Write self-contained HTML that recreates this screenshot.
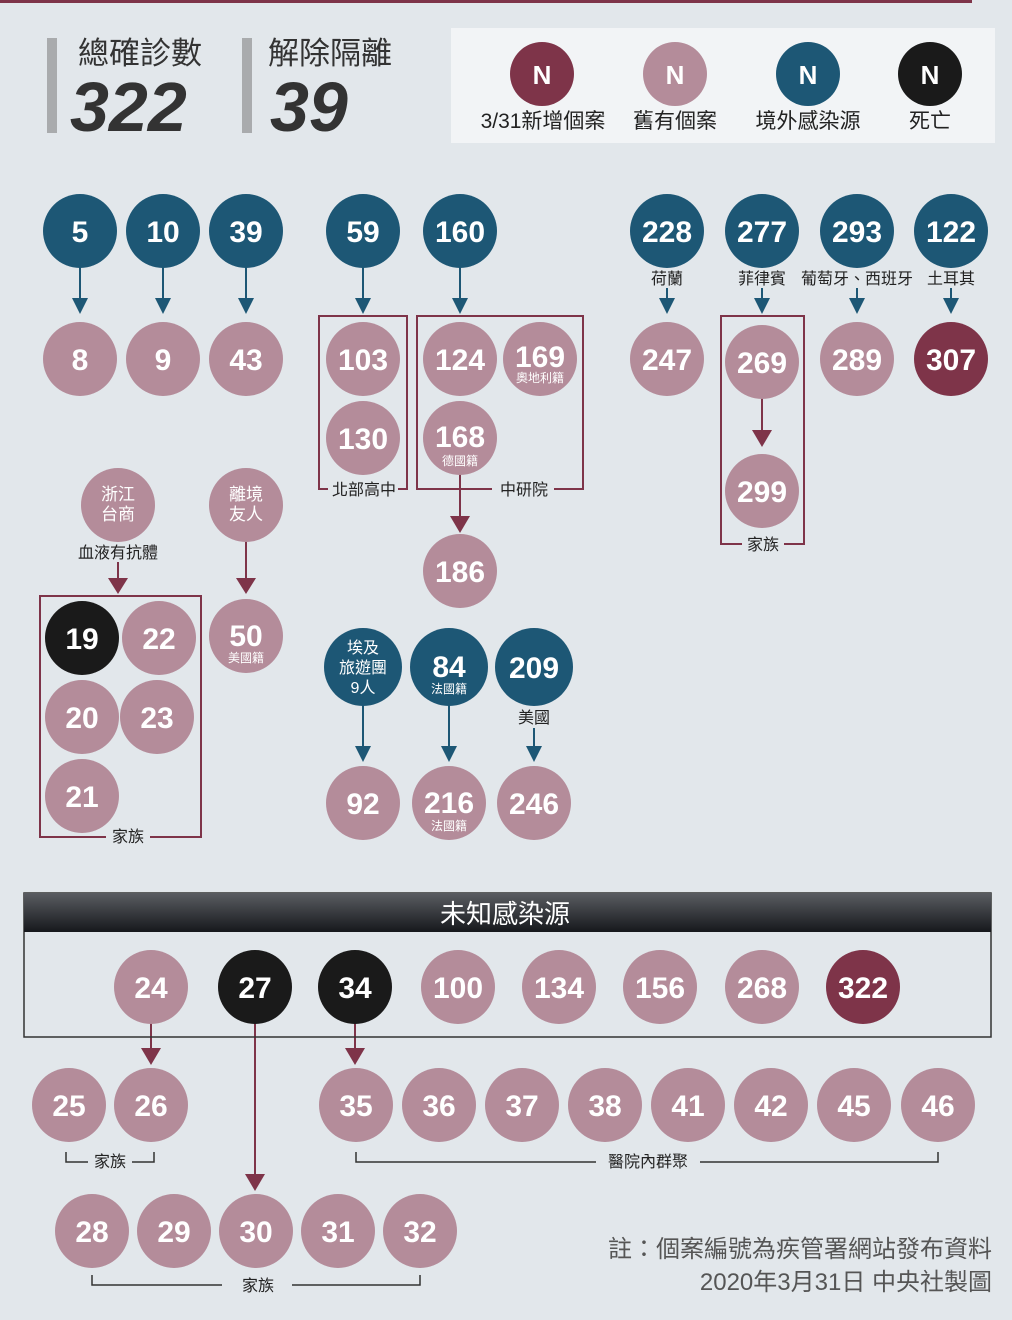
<!DOCTYPE html>
<html><head><meta charset="utf-8"><style>
body{margin:0;background:#e2e7eb}
svg{display:block;font-family:"Liberation Sans","Noto Sans CJK TC",sans-serif}
.n{font-weight:bold;fill:#fff;font-size:30px;text-anchor:middle}
.s{fill:#fff;font-size:12px;text-anchor:middle}
.l{fill:#222;font-size:16px;text-anchor:middle}
.p{fill:#b48c9a}.b{fill:#1d5775}.m{fill:#7e3449}.k{fill:#1a1a1a}
</style></head><body>
<svg width="1012" height="1320" viewBox="0 0 1012 1320">
<defs><linearGradient id="g" x1="0" y1="0" x2="0" y2="1"><stop offset="0" stop-color="#5a5d62"/><stop offset="1" stop-color="#16181c"/></linearGradient></defs>
<rect width="1012" height="1320" fill="#e2e7eb"/>
<rect x="0" y="0" width="972" height="3" fill="#7e3449"/>
<rect x="47" y="38" width="10" height="95" fill="#a9abad"/>
<rect x="242" y="38" width="10" height="95" fill="#a9abad"/>
<text x="78" y="64" font-size="31" fill="#333">總確診數</text>
<text x="268" y="64" font-size="31" fill="#333">解除隔離</text>
<text x="70" y="131" font-size="70" font-weight="bold" font-style="italic" fill="#333">322</text>
<text x="270" y="131" font-size="70" font-weight="bold" font-style="italic" fill="#333">39</text>
<rect x="451" y="28" width="544" height="115" fill="#f2f4f6"/>
<circle cx="542" cy="74" r="32" class="m"/><circle cx="675" cy="74" r="32" class="p"/><circle cx="808" cy="74" r="32" class="b"/><circle cx="930" cy="74" r="32" class="k"/>
<g><text x="542" y="84" class="n" style="font-size:26px">N</text><text x="675" y="84" class="n" style="font-size:26px">N</text><text x="808" y="84" class="n" style="font-size:26px">N</text><text x="930" y="84" class="n" style="font-size:26px">N</text></g>
<g fill="#222" font-size="21" text-anchor="middle"><text x="543" y="128">3/31新增個案</text><text x="675" y="128">舊有個案</text><text x="808" y="128">境外感染源</text><text x="930" y="128">死亡</text></g>

<g stroke="#1d5775" stroke-width="2">
<line x1="80" y1="260" x2="80" y2="300"/><line x1="163" y1="260" x2="163" y2="300"/><line x1="246" y1="260" x2="246" y2="300"/><line x1="363" y1="260" x2="363" y2="300"/><line x1="460" y1="260" x2="460" y2="300"/>
<line x1="667" y1="288" x2="667" y2="300"/><line x1="762" y1="288" x2="762" y2="300"/><line x1="857" y1="288" x2="857" y2="300"/><line x1="951" y1="288" x2="951" y2="300"/>
<line x1="363" y1="700" x2="363" y2="750"/><line x1="449" y1="700" x2="449" y2="750"/><line x1="534" y1="728" x2="534" y2="750"/>
</g>
<g fill="#1d5775">
<path d="M72 298h16l-8 16z"/><path d="M155 298h16l-8 16z"/><path d="M238 298h16l-8 16z"/><path d="M355 298h16l-8 16z"/><path d="M452 298h16l-8 16z"/>
<path d="M659 298h16l-8 16z"/><path d="M754 298h16l-8 16z"/><path d="M849 298h16l-8 16z"/><path d="M943 298h16l-8 16z"/>
<path d="M355 746h16l-8 16z"/><path d="M441 746h16l-8 16z"/><path d="M526 746h16l-8 16z"/>
</g>
<g stroke="#7e3449" stroke-width="2" fill="none">
<line x1="460" y1="470" x2="460" y2="520"/><line x1="762" y1="395" x2="762" y2="435"/>
<line x1="118" y1="562" x2="118" y2="582"/><line x1="246" y1="540" x2="246" y2="582"/>
<line x1="151" y1="1020" x2="151" y2="1052"/><line x1="355" y1="1020" x2="355" y2="1052"/><line x1="255" y1="1020" x2="255" y2="1178"/>
<rect x="319" y="316" width="88" height="173"/><rect x="417" y="316" width="166" height="173"/><rect x="721" y="316" width="83" height="228"/><rect x="40" y="596" width="161" height="241"/>
</g>
<g fill="#7e3449">
<path d="M450 516h20l-10 17z"/><path d="M752 430h20l-10 17z"/><path d="M108 578h20l-10 16z"/><path d="M236 578h20l-10 16z"/>
<path d="M141 1048h20l-10 17z"/><path d="M345 1048h20l-10 17z"/><path d="M245 1174h20l-10 17z"/>
</g>
<g fill="#e2e7eb"><rect x="328" y="480" width="70" height="18"/><rect x="492" y="480" width="62" height="18"/><rect x="742" y="535" width="42" height="18"/><rect x="106" y="828" width="44" height="18"/></g>
<g class="l"><text x="364" y="495">北部高中</text><text x="524" y="495">中研院</text><text x="763" y="550">家族</text><text x="128" y="842">家族</text>
<text x="667" y="284">荷蘭</text><text x="762" y="284">菲律賓</text><text x="857" y="284">葡萄牙、西班牙</text><text x="951" y="284">土耳其</text>
<text x="118" y="558">血液有抗體</text><text x="534" y="723">美國</text></g>

<g>
<circle cx="80" cy="231" r="37" class="b"/><circle cx="163" cy="231" r="37" class="b"/><circle cx="246" cy="231" r="37" class="b"/><circle cx="363" cy="231" r="37" class="b"/><circle cx="460" cy="231" r="37" class="b"/><circle cx="667" cy="231" r="37" class="b"/><circle cx="762" cy="231" r="37" class="b"/><circle cx="857" cy="231" r="37" class="b"/><circle cx="951" cy="231" r="37" class="b"/>
<circle cx="80" cy="359" r="37" class="p"/><circle cx="163" cy="359" r="37" class="p"/><circle cx="246" cy="359" r="37" class="p"/><circle cx="363" cy="359" r="37" class="p"/><circle cx="460" cy="359" r="37" class="p"/><circle cx="540" cy="359" r="37" class="p"/><circle cx="667" cy="359" r="37" class="p"/><circle cx="762" cy="362" r="37" class="p"/><circle cx="857" cy="359" r="37" class="p"/><circle cx="951" cy="359" r="37" class="m"/>
<circle cx="363" cy="438" r="37" class="p"/><circle cx="460" cy="438" r="37" class="p"/><circle cx="762" cy="491" r="37" class="p"/><circle cx="460" cy="571" r="37" class="p"/>
<circle cx="118" cy="505" r="37" class="p"/><circle cx="246" cy="505" r="37" class="p"/><circle cx="246" cy="636" r="37" class="p"/>
<circle cx="82" cy="638" r="37" class="k"/><circle cx="159" cy="638" r="37" class="p"/><circle cx="82" cy="717" r="37" class="p"/><circle cx="157" cy="717" r="37" class="p"/><circle cx="82" cy="796" r="37" class="p"/>
<circle cx="363" cy="667" r="39" class="b"/><circle cx="449" cy="667" r="39" class="b"/><circle cx="534" cy="667" r="39" class="b"/>
<circle cx="363" cy="803" r="37" class="p"/><circle cx="449" cy="803" r="37" class="p"/><circle cx="534" cy="803" r="37" class="p"/>
</g>
<g class="n">
<text x="80" y="242">5</text><text x="163" y="242">10</text><text x="246" y="242">39</text><text x="363" y="242">59</text><text x="460" y="242">160</text><text x="667" y="242">228</text><text x="762" y="242">277</text><text x="857" y="242">293</text><text x="951" y="242">122</text>
<text x="80" y="370">8</text><text x="163" y="370">9</text><text x="246" y="370">43</text><text x="363" y="370">103</text><text x="460" y="370">124</text><text x="540" y="367">169</text><text x="667" y="370">247</text><text x="762" y="373">269</text><text x="857" y="370">289</text><text x="951" y="370">307</text>
<text x="363" y="449">130</text><text x="460" y="447">168</text><text x="762" y="502">299</text><text x="460" y="582">186</text>
<text x="246" y="646">50</text>
<text x="82" y="649">19</text><text x="159" y="649">22</text><text x="82" y="728">20</text><text x="157" y="728">23</text><text x="82" y="807">21</text>
<text x="449" y="677">84</text><text x="534" y="678">209</text>
<text x="363" y="814">92</text><text x="449" y="813">216</text><text x="534" y="814">246</text>
</g>
<g class="s"><text x="540" y="382">奧地利籍</text><text x="460" y="465">德國籍</text><text x="246" y="662">美國籍</text><text x="449" y="693">法國籍</text><text x="449" y="830">法國籍</text></g>
<g fill="#fff" font-size="17" text-anchor="middle"><text x="118" y="500">浙江</text><text x="118" y="520">台商</text><text x="246" y="500">離境</text><text x="246" y="520">友人</text>
<text x="363" y="653" font-size="16">埃及</text><text x="363" y="673" font-size="16">旅遊團</text><text x="363" y="693" font-size="16">9人</text></g>

<rect x="24" y="893" width="967" height="144" fill="none" stroke="#333" stroke-width="1.5"/>
<rect x="24" y="893" width="967" height="39" fill="url(#g)"/>
<text x="505" y="923" font-size="26" fill="#fff" text-anchor="middle">未知感染源</text>
<g>
<circle cx="151" cy="987" r="37" class="p"/><circle cx="255" cy="987" r="37" class="k"/><circle cx="355" cy="987" r="37" class="k"/><circle cx="458" cy="987" r="37" class="p"/><circle cx="559" cy="987" r="37" class="p"/><circle cx="660" cy="987" r="37" class="p"/><circle cx="762" cy="987" r="37" class="p"/><circle cx="863" cy="987" r="37" class="m"/>
<circle cx="69" cy="1105" r="37" class="p"/><circle cx="151" cy="1105" r="37" class="p"/><circle cx="356" cy="1105" r="37" class="p"/><circle cx="439" cy="1105" r="37" class="p"/><circle cx="522" cy="1105" r="37" class="p"/><circle cx="605" cy="1105" r="37" class="p"/><circle cx="688" cy="1105" r="37" class="p"/><circle cx="771" cy="1105" r="37" class="p"/><circle cx="854" cy="1105" r="37" class="p"/><circle cx="938" cy="1105" r="37" class="p"/>
<circle cx="92" cy="1231" r="37" class="p"/><circle cx="174" cy="1231" r="37" class="p"/><circle cx="256" cy="1231" r="37" class="p"/><circle cx="338" cy="1231" r="37" class="p"/><circle cx="420" cy="1231" r="37" class="p"/>
</g>
<g class="n">
<text x="151" y="998">24</text><text x="255" y="998">27</text><text x="355" y="998">34</text><text x="458" y="998">100</text><text x="559" y="998">134</text><text x="660" y="998">156</text><text x="762" y="998">268</text><text x="863" y="998">322</text>
<text x="69" y="1116">25</text><text x="151" y="1116">26</text><text x="356" y="1116">35</text><text x="439" y="1116">36</text><text x="522" y="1116">37</text><text x="605" y="1116">38</text><text x="688" y="1116">41</text><text x="771" y="1116">42</text><text x="854" y="1116">45</text><text x="938" y="1116">46</text>
<text x="92" y="1242">28</text><text x="174" y="1242">29</text><text x="256" y="1242">30</text><text x="338" y="1242">31</text><text x="420" y="1242">32</text>
</g>
<g stroke="#333" stroke-width="1.5" fill="none">
<path d="M66 1152v10h22M132 1162h22v-10"/>
<path d="M356 1152v10h240M700 1162h238v-10"/>
<path d="M92 1275v10h130M292 1285h128v-10"/>
</g>
<g class="l"><text x="110" y="1167">家族</text><text x="648" y="1167">醫院內群聚</text><text x="258" y="1291">家族</text></g>
<g fill="#555" font-size="24" text-anchor="end"><text x="992" y="1257">註：個案編號為疾管署網站發布資料</text><text x="992" y="1290">2020年3月31日  中央社製圖</text></g>
</svg>
</body></html>
